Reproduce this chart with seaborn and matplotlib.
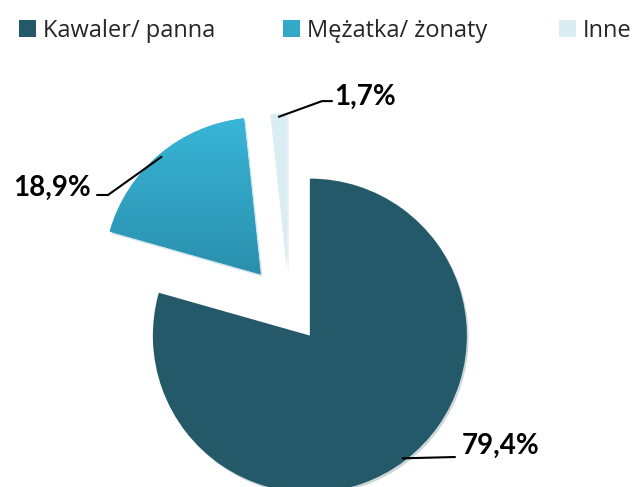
import matplotlib
matplotlib.use('Agg')
import matplotlib.pyplot as plt
from matplotlib.patches import Patch
from matplotlib.colors import LinearSegmentedColormap
import numpy as np
import seaborn as sns

# dane
kategorie = ['Kawaler/ panna', 'Mężatka/ żonaty', 'Inne']
procenty = [79.4, 18.9, 1.7]
kolory = ['#235968', '#34a8c9', '#daedf3']

sns.set_theme(style='white')
plt.rcParams['font.family'] = ['Lato', 'DejaVu Sans']

fig = plt.figure(figsize=(6.36, 4.87), dpi=100)
ax = fig.add_axes([0, 0, 1, 1])

wedges, _ = ax.pie(procenty,
                   colors=kolory,
                   startangle=90,
                   counterclock=False,
                   explode=(0.22, 0.28, 0.24),
                   radius=1.0,
                   shadow={'ox': 0.008, 'oy': -0.01, 'shade': 0.2, 'alpha': 0.22},
                   wedgeprops={'linewidth': 0})

# gradient na drugim wycinku
w = wedges[1]
grad = np.linspace(0, 1, 256).reshape(-1, 1)
cmap = LinearSegmentedColormap.from_list('g', ['#39b6d8', '#2a8fad'])
bb = w.get_path().get_extents()
im = ax.imshow(grad, extent=[bb.x0, bb.x1, bb.y0, bb.y1], origin='upper',
               cmap=cmap, aspect='auto', zorder=w.get_zorder() + 0.1)
im.set_clip_path(w)

# etykiety z liniami
elbow = [None, (-1.153, 0.720), (0.210, 1.318)]
koniec = [(1.057, -0.949), (-1.223, 0.720), (0.274, 1.318)]
tekst = [(1.10, -0.875, 'left'), (-1.26, 0.765, 'right'), (0.29, 1.345, 'left')]
for i, wd in enumerate(wedges):
    kat = np.deg2rad((wd.theta1 + wd.theta2) / 2)
    cx, cy = wd.center
    p0 = (cx + 0.98 * np.cos(kat), cy + 0.98 * np.sin(kat))
    pts = [p0]
    if elbow[i] is not None:
        pts.append(elbow[i])
    pts.append(koniec[i])
    xs, ys = zip(*pts)
    ax.plot(xs, ys, color='black', linewidth=1.5, zorder=5)
    etykieta = f'{procenty[i]:.1f}%'.replace('.', ',')
    ax.text(tekst[i][0], tekst[i][1], etykieta, ha=tekst[i][2], va='center',
            fontsize=20, fontweight='bold', color='black', zorder=6)

ax.set_xlim(-1.841, 2.210)
ax.set_ylim(-1.140, 1.962)
ax.set_aspect('auto')
ax.axis('off')

# legenda - kazdy wpis osobno, zeby trafic w pozycje
pozycje_leg = [19, 283, 559]
for k, nazwa, px in zip(kolory, kategorie, pozycje_leg):
    fig.legend([Patch(facecolor=k, edgecolor='none')], [nazwa],
               loc='upper left',
               bbox_to_anchor=(px / 636, 1 - 19 / 487),
               frameon=False,
               prop={'family': ['Open Sans', 'DejaVu Sans'], 'size': 17},
               handlelength=0.72, handleheight=0.72, handletextpad=0.3,
               borderpad=0, borderaxespad=0)

fig.savefig('out.png', dpi=100)
